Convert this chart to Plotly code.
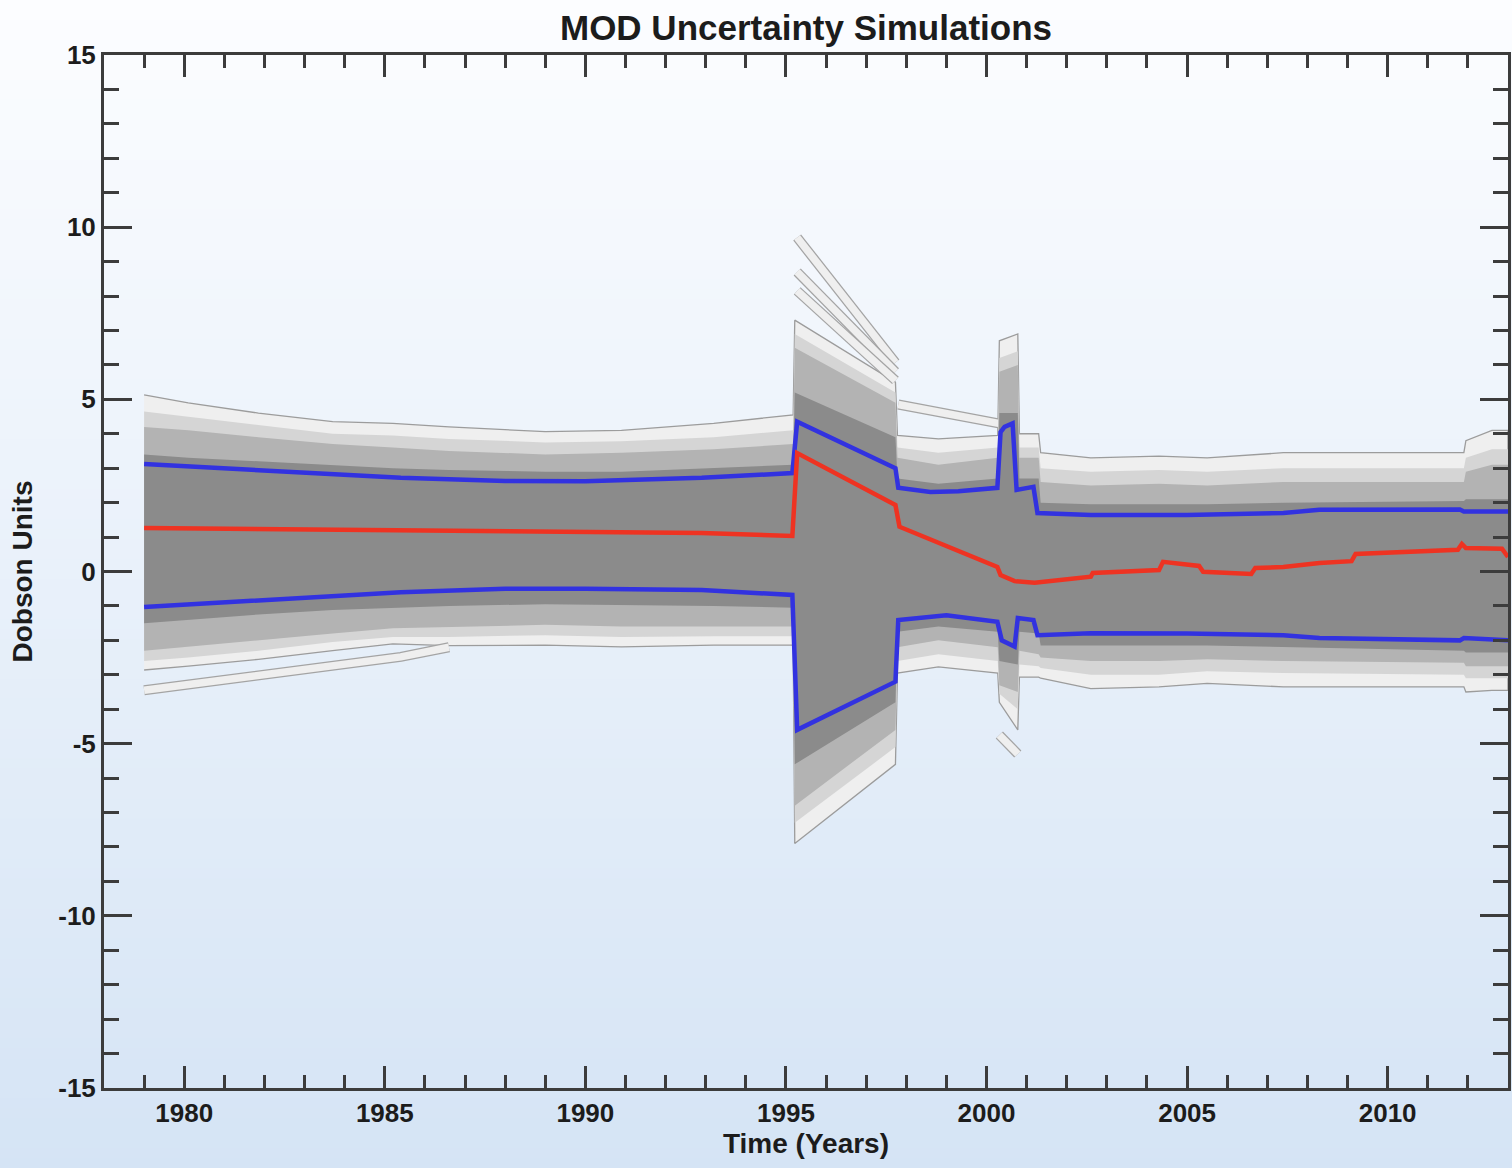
import plotly.graph_objects as go

# ---------------- data ----------------
upper_x = [1979.0, 1981.0, 1983.0, 1985.4, 1988.0, 1990.0, 1992.9, 1995.16, 1995.28, 1997.73, 1997.8,
           1998.6, 1999.3, 2000.27, 2000.35, 2000.45, 2000.65, 2000.75, 2001.17, 2001.27, 2002.6,
           2005.0, 2007.4, 2008.3, 2011.8, 2011.9, 2013.0]
upper_y = [3.12, 3.0, 2.88, 2.72, 2.63, 2.62, 2.72, 2.86, 4.35, 3.0, 2.43,
           2.31, 2.33, 2.43, 4.05, 4.2, 4.3, 2.37, 2.46, 1.7, 1.64,
           1.64, 1.7, 1.79, 1.8, 1.74, 1.74]

mean_x = [1979.0, 1985.4, 1990.0, 1992.9, 1995.16, 1995.28, 1997.73, 1997.83, 2000.27, 2000.35,
          2000.7, 2001.2, 2002.6, 2002.65, 2004.3, 2004.4, 2005.3, 2005.4, 2006.6, 2006.7,
          2007.4, 2008.3, 2009.1, 2009.2, 2011.75, 2011.85, 2011.95, 2012.85, 2013.0]
mean_y = [1.26, 1.21, 1.17, 1.12, 1.03, 3.44, 1.93, 1.3, 0.13, -0.1,
          -0.28, -0.33, -0.15, -0.04, 0.04, 0.28, 0.16, -0.01, -0.07, 0.1,
          0.13, 0.25, 0.3, 0.51, 0.63, 0.8, 0.68, 0.66, 0.42]

lower_x = [1979.0, 1981.0, 1983.0, 1985.4, 1988.0, 1990.0, 1992.9, 1995.16, 1995.28, 1997.73, 1997.8,
           1999.0, 2000.27, 2000.38, 2000.7, 2000.78, 2001.17, 2001.27, 2002.6, 2005.0, 2007.4,
           2008.3, 2011.8, 2011.9, 2013.0]
lower_y = [-1.03, -0.9, -0.75, -0.6, -0.5, -0.5, -0.54, -0.68, -4.6, -3.2, -1.41,
           -1.27, -1.46, -2.0, -2.18, -1.35, -1.41, -1.85, -1.79, -1.8, -1.85,
           -1.93, -2.0, -1.93, -2.0]

env_x = [1979.0, 1980.1, 1981.85, 1983.7, 1985.2, 1986.6, 1989.0, 1990.9, 1993.2, 1995.18,
         1995.22, 1997.73, 1997.78, 1998.8, 2000.28, 2000.32, 2000.78, 2000.82, 2001.3, 2001.35,
         2002.6, 2004.3, 2005.5, 2007.4, 2011.9, 2011.95, 2012.6, 2013.0]
outer_top = [5.13, 4.9, 4.6, 4.35, 4.3, 4.2, 4.06, 4.1, 4.3, 4.55,
             7.3, 5.5, 3.95, 3.85, 3.95, 6.7, 6.9, 4.0, 4.0, 3.45,
             3.3, 3.35, 3.3, 3.45, 3.45, 3.8, 4.1, 4.1]
outer_bot = [-2.86, -2.75, -2.55, -2.3, -2.1, -2.15, -2.14, -2.19, -2.14, -2.14,
             -7.9, -5.6, -2.95, -2.77, -2.95, -3.8, -4.6, -3.07, -3.07, -3.1,
             -3.4, -3.35, -3.25, -3.35, -3.35, -3.5, -3.45, -3.45]
light_top = [4.65, 4.5, 4.25, 4.0, 3.95, 3.85, 3.75, 3.78, 3.9, 4.1,
             6.9, 5.2, 3.6, 3.45, 3.6, 6.2, 6.4, 3.6, 3.6, 3.0,
             2.9, 2.95, 2.9, 3.0, 3.0, 3.3, 3.55, 3.55]
light_bot = [-2.6, -2.5, -2.3, -2.05, -1.9, -1.9, -1.85, -1.9, -1.88, -1.88,
             -7.3, -5.1, -2.6, -2.4, -2.6, -3.55, -4.0, -2.7, -2.75, -2.8,
             -3.0, -3.0, -2.9, -2.95, -3.0, -3.1, -3.1, -3.1]
mid_top = [4.2, 4.1, 3.9, 3.7, 3.6, 3.5, 3.4, 3.45, 3.55, 3.7,
           6.5, 4.9, 3.3, 3.1, 3.3, 5.8, 6.0, 3.3, 3.3, 2.6,
           2.5, 2.55, 2.5, 2.6, 2.6, 2.9, 3.1, 3.1]
mid_bot = [-2.3, -2.2, -2.0, -1.8, -1.65, -1.6, -1.55, -1.6, -1.6, -1.6,
           -6.8, -4.6, -2.2, -2.0, -2.2, -3.3, -3.5, -2.3, -2.4, -2.5,
           -2.6, -2.6, -2.55, -2.6, -2.65, -2.75, -2.75, -2.75]
core_top = [3.4, 3.3, 3.2, 3.1, 3.0, 2.95, 2.9, 2.9, 3.0, 3.1,
            5.2, 3.9, 2.7, 2.55, 2.7, 4.6, 4.6, 2.7, 2.7, 2.0,
            1.95, 1.95, 1.95, 2.0, 2.05, 2.1, 2.1, 2.1]
core_bot = [-1.5, -1.4, -1.25, -1.12, -1.05, -1.0, -0.95, -0.98, -1.0, -1.05,
            -5.6, -3.8, -1.75, -1.6, -1.75, -2.6, -2.7, -1.75, -1.8, -2.15,
            -2.15, -2.15, -2.15, -2.2, -2.3, -2.35, -2.35, -2.35]

# individual outlier simulations
streaks = [
    ([1995.28, 1997.73], [9.7, 6.07]),
    ([1995.28, 1997.73], [8.7, 5.8]),
    ([1995.28, 1997.73], [8.15, 5.55]),
    ([1997.8, 2000.3], [4.85, 4.3]),
    ([1979.0, 1985.4, 1986.6], [-3.45, -2.48, -2.2]),
    ([2000.32, 2000.78], [-4.75, -5.3]),
]

y_tickvals = [15, 10, 5, 0, -5, -10, -15]
y_ticktext = ["15", "10", "5", "0", "-5", "-10", "-15"]

# ---------------- figure ----------------
W, H = 1512, 1168
L, R, T, B = 104, 4, 55, 80
FONT = "Liberation Sans, Arial, Helvetica, sans-serif"
AX = "#3c3c3c"
TXT = "#1c1c1c"

fig = go.Figure()


def band(top, bot, color, line=None):
    fig.add_trace(go.Scatter(
        x=env_x + env_x[::-1], y=top + bot[::-1], mode="lines", fill="toself",
        fillcolor=color, line=dict(color=line or color, width=1.3 if line else 0),
        hoverinfo="skip", showlegend=False))


band(outer_top, outer_bot, "#efefef", "#9c9c9c")
for sx, sy in streaks:
    fig.add_trace(go.Scatter(x=sx, y=sy, mode="lines", line=dict(color="#a4a4a4", width=10),
                             hoverinfo="skip", showlegend=False))
    fig.add_trace(go.Scatter(x=sx, y=sy, mode="lines", line=dict(color="#efefef", width=7.5),
                             hoverinfo="skip", showlegend=False))
band(light_top, light_bot, "#d5d5d5")
band(mid_top, mid_bot, "#b3b3b3")
band(core_top, core_bot, "#8b8b8b")

fig.add_trace(go.Scatter(x=upper_x, y=upper_y, mode="lines", line=dict(color="#3232e0", width=4.5),
                         name="upper", showlegend=False))
fig.add_trace(go.Scatter(x=lower_x, y=lower_y, mode="lines", line=dict(color="#3232e0", width=4.5),
                         name="lower", showlegend=False))
fig.add_trace(go.Scatter(x=mean_x, y=mean_y, mode="lines", line=dict(color="#ee3322", width=4.5),
                         name="mean", showlegend=False))

# background gradient (white at top -> light blue at bottom)
top_c = (252, 253, 255)
bot_c = (213, 228, 245)
nb = 117
pw, ph = W - L - R, H - T - B
for i in range(nb):
    p0 = i * H / nb
    p1 = (i + 1) * H / nb + 1
    f = (i + 0.5) / nb
    c = tuple(round(top_c[k] + (bot_c[k] - top_c[k]) * f) for k in range(3))
    fig.add_shape(type="rect", xref="paper", yref="paper", layer="below",
                  x0=-L / pw - 0.01, x1=1 + R / pw + 0.01,
                  y0=(H - B - p1) / ph, y1=(H - B - p0) / ph,
                  fillcolor="rgb(%d,%d,%d)" % c, line=dict(width=0))

fig.update_layout(
    width=W, height=H,
    margin=dict(l=L, r=R, t=T, b=B, autoexpand=False),
    paper_bgcolor="#eef3fa", plot_bgcolor="rgba(0,0,0,0)",
    title=dict(text="MOD Uncertainty Simulations", x=0.5 * (L + (W - R)) / W, xanchor="center",
               y=1 - 28 / H, yanchor="middle",
               font=dict(family=FONT, size=35, color=TXT, weight="bold")),
    font=dict(family=FONT, color=TXT),
)
fig.update_xaxes(
    range=[1978, 2013], tick0=1980, dtick=5, ticks="inside", ticklen=22, tickwidth=3, tickcolor=AX,
    showline=True, linewidth=3, linecolor=AX, mirror="ticks", showgrid=False, zeroline=False,
    tickfont=dict(family=FONT, size=26, color=TXT, weight="bold"),
    minor=dict(tick0=1978, dtick=1, ticks="inside", ticklen=13, tickwidth=3, tickcolor=AX, showgrid=False),
    title=dict(text="Time (Years)", standoff=4, font=dict(family=FONT, size=28, color=TXT, weight="bold")),
)
fig.update_yaxes(
    range=[-15, 15], tickmode="array", tickvals=y_tickvals, ticktext=y_ticktext,
    ticks="inside", ticklen=28, tickwidth=3, tickcolor=AX,
    showline=True, linewidth=3, linecolor=AX, mirror="ticks", showgrid=False, zeroline=False,
    tickfont=dict(family=FONT, size=26, color=TXT, weight="bold"),
    minor=dict(tickmode="linear", tick0=0, dtick=1, ticks="inside", ticklen=15, tickwidth=3, tickcolor=AX, showgrid=False),
    title=dict(text="Dobson Units", standoff=18, font=dict(family=FONT, size=28, color=TXT, weight="bold")),
)

fig.write_html("out.html")
